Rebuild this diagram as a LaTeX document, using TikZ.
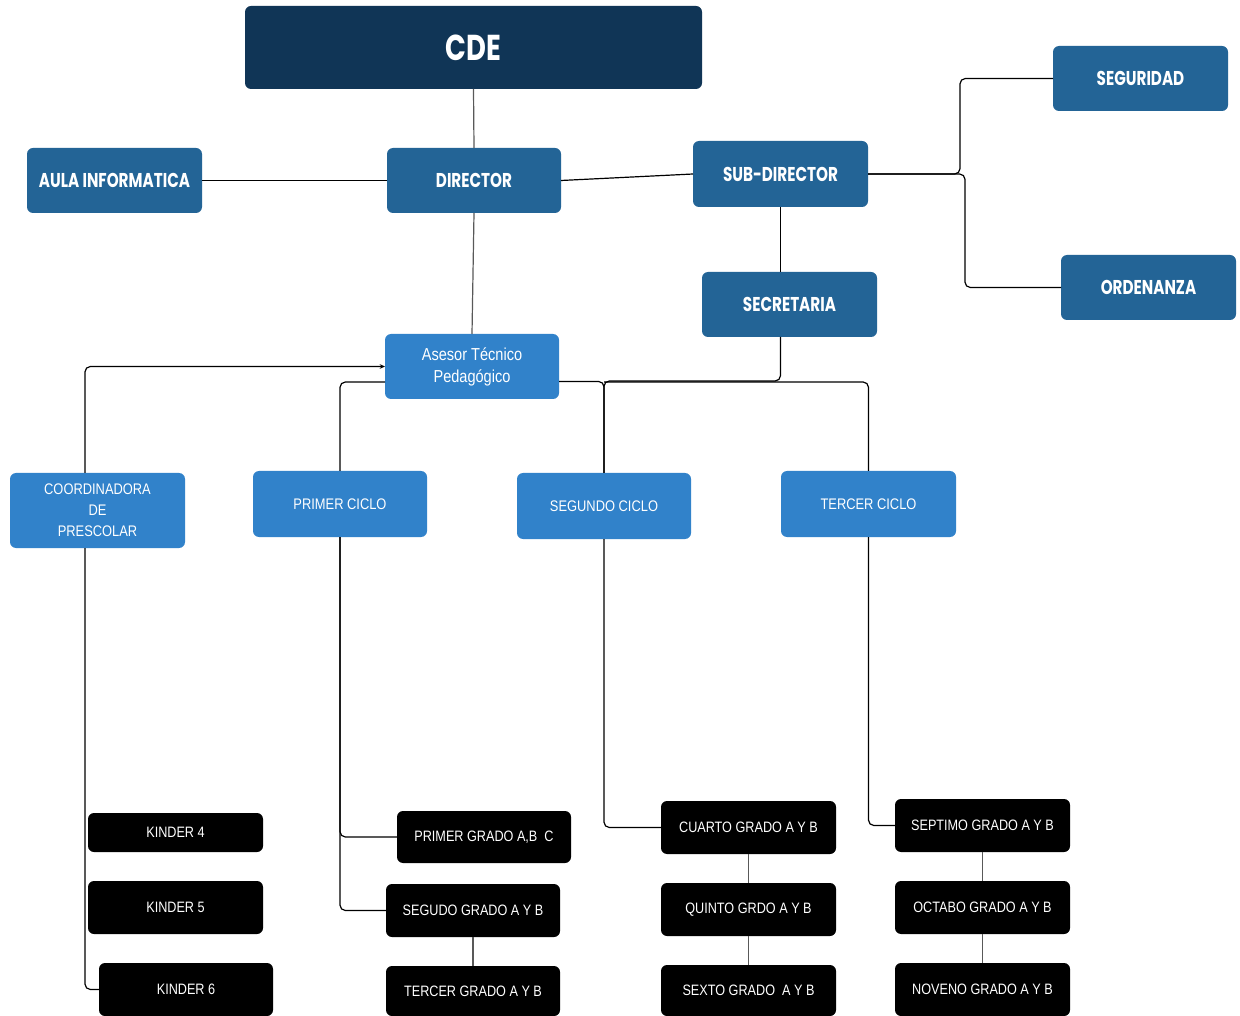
\documentclass[tikz,border=0pt]{standalone}
\usepackage{fontspec}
\setmainfont{Liberation Sans}[FakeStretch=0.84]
\newfontfamily\topfont{Poppins}[FakeStretch=0.76]
\usetikzlibrary{calc,arrows.meta}
\definecolor{navy}{RGB}{16,53,86}
\definecolor{midblue}{RGB}{35,100,150}
\definecolor{lightblue}{RGB}{49,130,202}
\newcommand{\bx}[7]{\node[#6, minimum width={(#4-#2)*0.75pt}, minimum height={(#5-#3)*0.75pt}] (#1) at ({(#2+#4)/2},{(#3+#5)/2}) {#7};}
\tikzset{
  box/.style={rounded corners=4.5pt, inner sep=0pt, outer sep=0pt, text=white, align=center},
  cdebox/.style={box, fill=navy, font=\topfont\bfseries\fontsize{27}{30}\selectfont},
  topbox/.style={box, fill=midblue, font=\topfont\bfseries\fontsize{15}{18}\selectfont},
  ltbox/.style={box, fill=lightblue, font=\fontsize{11.5}{15.75}\selectfont},
  asebox/.style={box, fill=lightblue, font=\fontsize{13}{16.5}\selectfont},
  blkbox/.style={box, fill=black, font=\fontsize{11.3}{14}\selectfont},
  conn/.style={draw=black, line width=0.9pt, rounded corners=4pt},
  gconn/.style={draw=black!65, line width=0.9pt},
}
\begin{document}
\begin{tikzpicture}[x=0.75pt,y=-0.75pt]
\fill[white] (0,0) rectangle (1240,1016);
\useasboundingbox (0,0) rectangle (1240,1016);
% top level
\bx{cde}{245}{6}{702}{89}{cdebox}{CDE}
\bx{dir}{387}{148}{561}{213}{topbox}{DIRECTOR}
\bx{aula}{27}{148}{202}{213}{topbox}{AULA INFORMATICA}
\bx{sub}{693}{141}{868}{207}{topbox}{SUB-DIRECTOR}
\bx{segu}{1053}{46}{1228}{111}{topbox}{SEGURIDAD}
\bx{orde}{1061}{255}{1236}{320}{topbox}{ORDENANZA}
\bx{secr}{702}{272}{877}{337}{topbox}{SECRETARIA}
% second level
\bx{ase}{385}{334}{559}{399}{asebox}{Asesor Técnico\\Pedagógico}
\bx{coord}{10}{473}{185}{548}{ltbox}{COORDINADORA\\DE\\PRESCOLAR}
\bx{pc}{253}{471}{427}{537}{ltbox}{PRIMER CICLO}
\bx{seg2}{517}{473}{691}{539}{ltbox}{SEGUNDO CICLO}
\bx{tc}{781}{471}{956}{537}{ltbox}{TERCER CICLO}
% grades
\bx{k4}{88}{813}{263}{852}{blkbox}{KINDER 4}
\bx{k5}{88}{881}{263}{934}{blkbox}{KINDER 5}
\bx{k6}{99}{963}{273}{1016}{blkbox}{KINDER 6}
\bx{pg1}{397}{811}{571}{863}{blkbox}{PRIMER GRADO A,B\ \ C}
\bx{sg}{386}{884}{560}{937}{blkbox}{SEGUDO GRADO A Y B}
\bx{tg}{386}{966}{560}{1016}{blkbox}{TERCER GRADO A Y B}
\bx{cg}{661}{801}{836}{854}{blkbox}{CUARTO GRADO A Y B}
\bx{qg}{661}{883}{836}{936}{blkbox}{QUINTO GRDO A Y B}
\bx{sx}{661}{965}{836}{1016}{blkbox}{SEXTO GRADO\ \ A Y B}
\bx{sep}{895}{799}{1070}{852}{blkbox}{SEPTIMO GRADO A Y B}
\bx{oct}{895}{881}{1070}{934}{blkbox}{OCTABO GRADO A Y B}
\bx{nov}{895}{963}{1070}{1016}{blkbox}{NOVENO GRADO A Y B}
% connectors
\draw[gconn] (cde.south) -- (dir.north);
\draw[conn] (aula.east) -- (dir.west);
\draw[conn] (dir.east) -- (sub.west);
\draw[conn] (sub.east) -- ++(92,0) |- (segu.west);
\draw[conn] (sub.east) -- ++(97,0) |- (orde.west);
\draw[conn] (sub.south) -- (sub.south |- secr.north);
\draw[gconn] (dir.south) -- (ase.north);
\draw[conn] (secr.south -| sub.south) -- ++(0,44) -| (seg2.north);
\draw[conn] ($(ase.east)+(0,15)$) -| (seg2.north);
\coordinate (jt) at ($(seg2.north)+(0,-91)$);
\draw[conn] (jt) -| (tc.north);
\draw[conn,-{Stealth[length=4pt,width=3.5pt]}] ($(coord.north west)+(75,0)$) |- (ase.west);
\draw[conn] ($(ase.west)+(0,15.5)$) -| (pc.north);
\draw[conn] ($(coord.south west)+(75,0)$) |- (k6.west);
\draw[conn] (pc.south) |- (pg1.west);
\draw[conn] (pc.south) |- (sg.west);
\draw[gconn] (sg.south) -- (tg.north);
\draw[conn] (seg2.south) |- (cg.west);
\draw[gconn] (cg.south) -- (qg.north);
\draw[gconn] (qg.south) -- (sx.north);
\draw[conn] (tc.south) |- (sep.west);
\draw[gconn] (sep.south) -- (oct.north);
\draw[gconn] (oct.south) -- (nov.north);
\end{tikzpicture}
\end{document}
